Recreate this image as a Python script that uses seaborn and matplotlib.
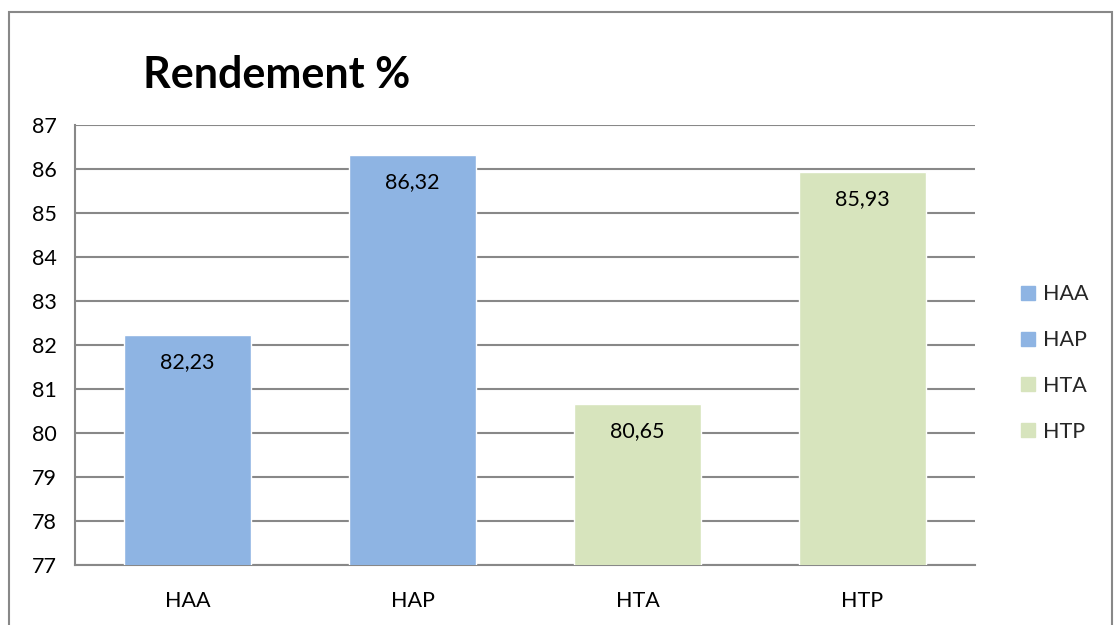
import matplotlib.pyplot as plt
import matplotlib.patches as mpatches
from matplotlib.lines import Line2D
import pandas as pd
import seaborn as sns

sns.set_style("white")
plt.rcParams['font.family'] = ['Lato', 'DejaVu Sans']

# date
categorii = ["HAA", "HAP", "HTA", "HTP"]
valori = [82.23, 86.32, 80.65, 85.93]
culori = ["#8EB4E3", "#8EB4E3", "#D7E4BD", "#D7E4BD"]
ticks_y = list(range(77, 88))

df = pd.DataFrame({"cat": categorii, "val": valori})

fig = plt.figure(figsize=(11.15, 6.25), dpi=100)
ax = fig.add_axes([75 / 1115, 1 - 565 / 625, 900 / 1115, 440 / 625])

sns.barplot(data=df, x="cat", y="val", hue="cat", palette=culori,
            width=0.565, legend=False, ax=ax, zorder=3, saturation=1)

ax.set_ylim(77, 87)
ax.set_xlim(-0.5, 3.5)
ax.set_yticks(ticks_y)
ax.yaxis.grid(True, color="#888888", linewidth=1.5, zorder=0)
ax.set_axisbelow(True)
for s in ["top", "right"]:
    ax.spines[s].set_visible(False)
for s in ["left", "bottom"]:
    ax.spines[s].set_color("#888888")
    ax.spines[s].set_linewidth(1.5)
ax.tick_params(axis="y", length=0, pad=13, labelsize=15.5, labelcolor="black")
ax.tick_params(axis="x", length=0, pad=19, labelsize=15.5, labelcolor="black")
ax.set_xlabel("")
ax.set_ylabel("")

# etichete pe bare
for i, v in enumerate(valori):
    ax.text(i, v - 0.38, f"{v:.2f}".replace(".", ","), ha="center", va="top",
            fontsize=15.5, zorder=4, color="black")

# titlu
fig.text(277 / 1115, 1 - 75 / 625, "Rendement %", ha="center", va="center",
         fontsize=31, fontweight="bold", color="black")

# legenda
handles = [Line2D([0], [0], marker="s", linestyle="", markersize=10,
                  markerfacecolor=c, markeredgecolor=c) for c in culori]
fig.legend(handles, categorii, loc="center left",
           bbox_to_anchor=(998 / 1115, 1 - 363 / 625), frameon=False,
           fontsize=15.5, handletextpad=0.2, labelspacing=1.2, handlelength=1)

# chenar
fig.patches.append(mpatches.Rectangle((9 / 1115, -0.02), 1103 / 1115, 1 - 12 / 625 + 0.02,
                                      transform=fig.transFigure, fill=False,
                                      edgecolor="#888888", linewidth=1.5))

fig.savefig("out.png", dpi=100)
